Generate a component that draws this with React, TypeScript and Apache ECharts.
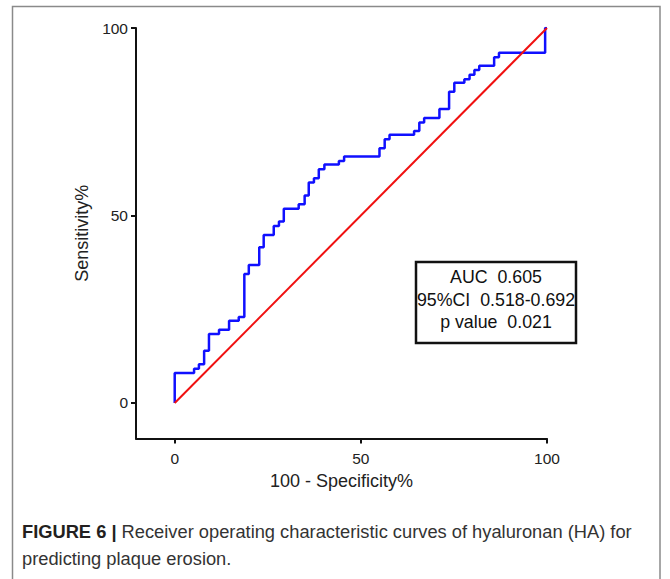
import React, { useEffect, useRef } from "react";
import * as echarts from "echarts";

// ROC curve vertices (100 - Specificity%, Sensitivity%)
const rocX = [0, 0, 5.2, 5.2, 6.5, 6.5, 7.9, 7.9, 9.2, 9.2, 11.9, 11.9, 14.6, 14.6, 17.2, 17.2, 18.7, 18.7, 19.9, 19.9, 22.7, 22.7, 23.9, 23.9, 26.6, 26.6, 28.0, 28.0, 29.3, 29.3, 33.3, 33.3, 34.9, 34.9, 36.0, 36.0, 37.4, 37.4, 38.7, 38.7, 40.2, 40.2, 44.1, 44.1, 45.5, 45.5, 55.0, 55.0, 56.4, 56.4, 57.7, 57.7, 64.3, 64.3, 65.7, 65.7, 67.0, 67.0, 71.1, 71.1, 73.7, 73.7, 75.1, 75.1, 77.8, 77.8, 79.2, 79.2, 80.5, 80.5, 81.8, 81.8, 85.8, 85.8, 87.1, 87.1, 99.5, 99.5, 100];
const rocY = [0, 8.0, 8.0, 9.1, 9.1, 10.3, 10.3, 13.9, 13.9, 18.4, 18.4, 19.5, 19.5, 21.9, 21.9, 22.9, 22.9, 34.4, 34.4, 36.8, 36.8, 41.5, 41.5, 44.8, 44.8, 47.2, 47.2, 48.4, 48.4, 51.8, 51.8, 53.0, 53.0, 55.3, 55.3, 58.8, 58.8, 59.9, 59.9, 62.3, 62.3, 63.6, 63.6, 64.5, 64.5, 65.7, 65.7, 67.9, 67.9, 70.3, 70.3, 71.5, 71.5, 72.5, 72.5, 74.8, 74.8, 76.0, 76.0, 78.4, 78.4, 83.0, 83.0, 85.4, 85.4, 86.3, 86.3, 87.5, 87.5, 88.8, 88.8, 89.9, 89.9, 92.2, 92.2, 93.4, 93.4, 100, 100];
const refX = [0, 100];
const refY = [0, 100];
const tickValues = [0, 50, 100];
const statLines = ["AUC  0.605", "95%CI  0.518-0.692", "p value  0.021"];
const xName = "100 - Specificity%";
const yName = "Sensitivity%";
const captionBold = "FIGURE 6 |";
const captionLine1 = " Receiver operating characteristic curves of hyaluronan (HA) for";
const captionLine2 = "predicting plaque erosion.";

export default function App() {
  const ref = useRef<HTMLDivElement>(null);
  useEffect(() => {
    if (!ref.current) return;
    const chart = echarts.init(ref.current, null, { renderer: "svg" });
    const font = "Liberation Sans, Arial, sans-serif";
    const axisCommon = {
      type: "value" as const,
      axisLine: { show: true, onZero: false, lineStyle: { color: "#111", width: 2 } },
      axisTick: { show: true, customValues: tickValues, length: 5, lineStyle: { color: "#111", width: 2 } },
      axisLabel: { customValues: tickValues, color: "#222", fontSize: 15.5, fontFamily: font },
      splitLine: { show: false },
      nameLocation: "middle" as const,
      nameTextStyle: { color: "#222", fontSize: 18, fontFamily: font },
    };
    chart.setOption({
      animation: false,
      backgroundColor: "#fff",
      grid: { left: 136, top: 28, width: 411, height: 410.6 },
      xAxis: {
        ...axisCommon,
        min: -10.4,
        max: 100,
        name: xName,
        nameGap: 33,
        axisLabel: { ...axisCommon.axisLabel, margin: 12 },
      },
      yAxis: {
        ...axisCommon,
        min: -9.5,
        max: 100,
        name: yName,
        nameGap: 40,
        axisLabel: { ...axisCommon.axisLabel, margin: 8 },
      },
      series: [
        {
          type: "line",
          data: rocX.map((x, i) => [x, rocY[i]]),
          showSymbol: false,
          lineStyle: { color: "#1010ff", width: 2.5 },
          z: 2,
        },
        {
          type: "line",
          data: refX.map((x, i) => [x, refY[i]]),
          showSymbol: false,
          lineStyle: { color: "#f01010", width: 2 },
          z: 3,
        },
      ],
      graphic: [
        {
          type: "rect",
          shape: { x: 12.5, y: 6.5, width: 647.5, height: 620 },
          style: { fill: "none", stroke: "#8a8a8a", lineWidth: 1.5 },
          silent: true,
        },
        {
          type: "rect",
          shape: { x: 416, y: 262, width: 160, height: 81 },
          style: { fill: "#fff", stroke: "#111", lineWidth: 2.5 },
          z: 10,
        },
        ...statLines.map((t, i) => ({
          type: "text",
          x: 496,
          y: 277 + i * 22.5,
          z: 11,
          style: {
            text: t,
            fill: "#111",
            font: `17.8px ${font}`,
            textAlign: "center",
            textVerticalAlign: "middle",
          },
        })),
        {
          type: "text",
          x: 22,
          y: 517.5,
          style: {
            text: `{b|${captionBold}}{r|${captionLine1}}\n{r|${captionLine2}}`,
            textVerticalAlign: "top",
            rich: {
              b: { fontFamily: font, fontWeight: "bold", fontSize: 18.3, fill: "#231f20", lineHeight: 27 },
              r: { fontFamily: font, fontSize: 18.3, fill: "#333", lineHeight: 27 },
            },
          },
        },
      ],
    });
    return () => chart.dispose();
  }, []);
  return <div ref={ref} style={{ position: "fixed", left: 0, top: 0, width: 670, height: 579 }} />;
}
